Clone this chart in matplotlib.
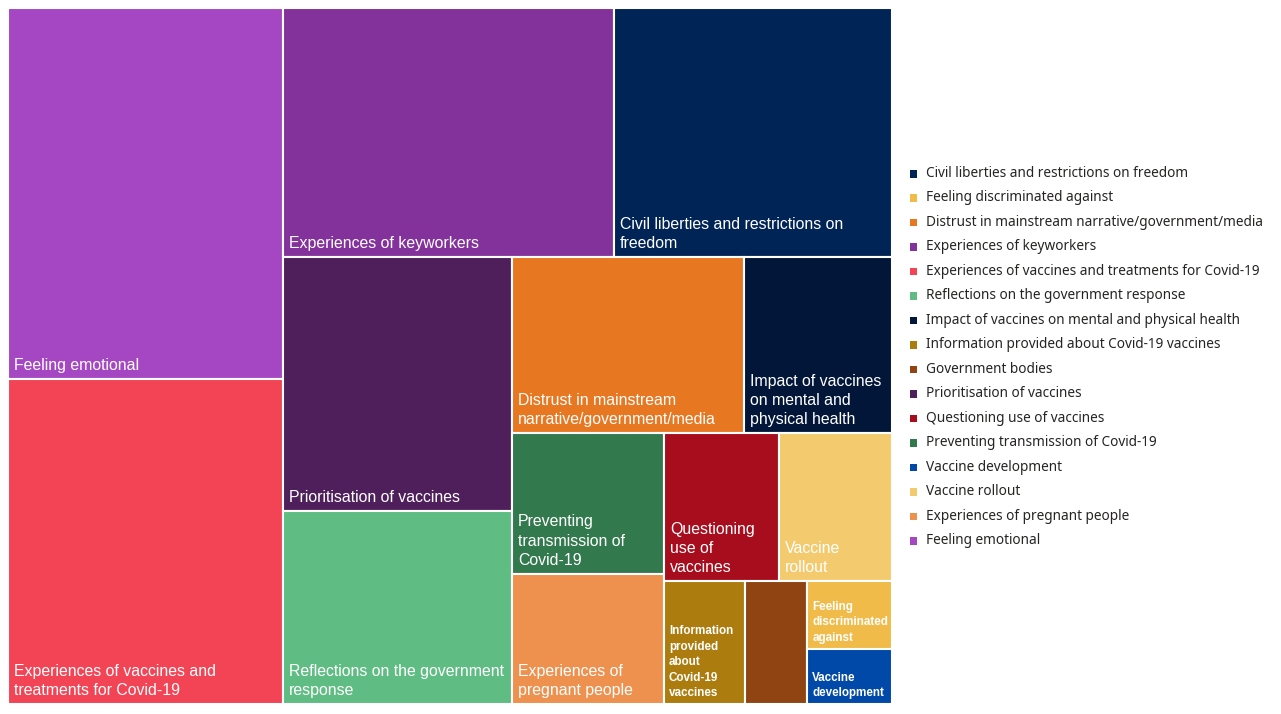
import matplotlib
matplotlib.use('Agg')
import matplotlib.pyplot as plt
from matplotlib.patches import Rectangle

# ---------------- data ----------------
categories = [
    "Feeling emotional",
    "Experiences of vaccines and treatments for Covid-19",
    "Experiences of keyworkers",
    "Civil liberties and restrictions on freedom",
    "Prioritisation of vaccines",
    "Reflections on the government response",
    "Distrust in mainstream narrative/government/media",
    "Impact of vaccines on mental and physical health",
    "Preventing transmission of Covid-19",
    "Experiences of pregnant people",
    "Questioning use of vaccines",
    "Vaccine rollout",
    "Information provided about Covid-19 vaccines",
    "Government bodies",
    "Feeling discriminated against",
    "Vaccine development",
]
values = [1020, 894, 824, 692, 582, 442, 408, 260, 214, 198, 171, 168, 100, 76, 57, 47]
colors = [
    "#A547C3", "#F24455", "#84329B", "#012456", "#4F1F5C", "#5FBD83",
    "#E87722", "#011638", "#33794E", "#EE914F", "#A80D1E", "#F4CA6E",
    "#AD7C0F", "#8F4412", "#F0BB48", "#0049A8",
]
tile_labels = [
    "Feeling emotional",
    "Experiences of vaccines and\ntreatments for Covid-19",
    "Experiences of keyworkers",
    "Civil liberties and restrictions on\nfreedom",
    "Prioritisation of vaccines",
    "Reflections on the government\nresponse",
    "Distrust in mainstream\nnarrative/government/media",
    "Impact of vaccines\non mental and\nphysical health",
    "Preventing\ntransmission of\nCovid-19",
    "Experiences of\npregnant people",
    "Questioning\nuse of\nvaccines",
    "Vaccine\nrollout",
    "Information\nprovided\nabout\nCovid-19\nvaccines",
    "",
    "Feeling\ndiscriminated\nagainst",
    "Vaccine\ndevelopment",
]
small_label = [False] * 12 + [True, True, True, True]
legend_order = [
    "Civil liberties and restrictions on freedom",
    "Feeling discriminated against",
    "Distrust in mainstream narrative/government/media",
    "Experiences of keyworkers",
    "Experiences of vaccines and treatments for Covid-19",
    "Reflections on the government response",
    "Impact of vaccines on mental and physical health",
    "Information provided about Covid-19 vaccines",
    "Government bodies",
    "Prioritisation of vaccines",
    "Questioning use of vaccines",
    "Preventing transmission of Covid-19",
    "Vaccine development",
    "Vaccine rollout",
    "Experiences of pregnant people",
    "Feeling emotional",
]

# ---------------- layout ----------------
W, H = 1281, 714
fig = plt.figure(figsize=(W / 100, H / 100), dpi=100)
ax = fig.add_axes([0, 0, 1, 1])
ax.set_xlim(0, W)
ax.set_ylim(H, 0)
ax.axis('off')


def worst(row, side):
    s = sum(row)
    return max(max(side * side * r / (s * s), (s * s) / (side * side * r)) for r in row)


def squarify(vals, x, y, dx, dy):
    total = sum(vals)
    areas = [v * dx * dy / total for v in vals]
    rects = []
    i = 0
    while i < len(areas):
        side = min(dx, dy)
        row = [areas[i]]
        i += 1
        while i < len(areas) and worst(row + [areas[i]], side) <= worst(row, side):
            row.append(areas[i])
            i += 1
        s = sum(row)
        if dx >= dy:
            w = s / dy
            yy = y
            for a in row:
                h = a / w
                rects.append((x, yy, w, h))
                yy += h
            x += w
            dx -= w
        else:
            h = s / dx
            xx = x
            for a in row:
                w = a / h
                rects.append((xx, y, w, h))
                xx += w
            y += h
            dy -= h
    return rects


rects = squarify(values, 8, 8, 884, 696)

for (x, y, w, h), c, lab, sm in zip(rects, colors, tile_labels, small_label):
    ax.add_patch(Rectangle((x, y), w, h, facecolor=c, edgecolor='white', lw=1.5))
    if lab:
        if sm:
            ax.text(x + 5, y + h - 5, lab, color='white', fontsize=8.4,
                    fontweight='bold', family='Liberation Sans', ha='left',
                    va='bottom', linespacing=1.38)
        else:
            ax.text(x + 6, y + h - 6, lab, color='white', fontsize=11.4,
                    family='Liberation Sans', ha='left', va='bottom',
                    linespacing=1.34)

# legend
cmap = dict(zip(categories, colors))
ly0, dy = 173.5, 24.47
for k, name in enumerate(legend_order):
    yy = ly0 + k * dy
    ax.add_patch(Rectangle((909.5, yy - 3.5), 7.5, 7.5, facecolor=cmap[name],
                           edgecolor='none'))
    ax.text(926, yy, name, color='#252423', fontsize=9.8, family='Noto Sans',
            ha='left', va='center')

fig.savefig('out.png', dpi=100, facecolor='white')
